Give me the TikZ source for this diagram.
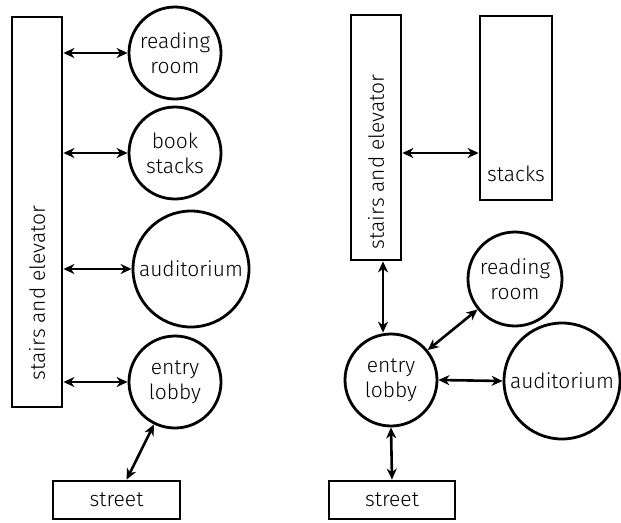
\documentclass[tikz,border=0pt]{standalone}
\usepackage{fontspec}
\setmainfont{Fira Sans}[UprightFont={* Light}]
\usetikzlibrary{arrows.meta}
\tikzset{
  room/.style={circle,draw,line width=2.8pt,inner sep=0pt,align=center,font=\fontsize{21}{25}\selectfont},
  box/.style={rectangle,draw,line width=2.8pt,inner sep=0pt,font=\fontsize{21}{25}\selectfont},
  lbl/.style={inner sep=0pt,font=\fontsize{21}{25}\selectfont},
  arr/.style={line width=2.6pt,{Stealth[length=11pt,width=10pt,inset=3.5pt]}-{Stealth[length=11pt,width=10pt,inset=3.5pt]}}
}
\begin{document}
\begin{tikzpicture}[x=1pt,y=-1pt]
\useasboundingbox (0,0) rectangle (621,522);
% left diagram
\node[box,minimum width=50pt,minimum height=390pt] (stairsL) at (37,212) {};
\node[lbl,rotate=90] (stairsLt) at (37,293) {stairs and elevator};
\node[room,minimum size=92pt] (rrL) at (175,53) {reading\\room};
\node[room,minimum size=92pt] (bsL) at (175,153) {book\\stacks};
\node[room,minimum size=116pt] (audL) at (191,269) {auditorium};
\node[room,minimum size=92pt] (elL) at (175,382) {entry\\lobby};
\node[box,minimum width=127pt,minimum height=38pt] (streetL) at (116.5,500) {street};
\draw[arr] (stairsL.east |- rrL.west) -- (rrL.west);
\draw[arr] (stairsL.east |- bsL.west) -- (bsL.west);
\draw[arr] (stairsL.east |- audL.west) -- (audL.west);
\draw[arr] (stairsL.east |- elL.west) -- (elL.west);
\draw[arr] (streetL) -- (elL);
% right diagram
\node[box,minimum width=50pt,minimum height=245pt] (stairsR) at (376,137.5) {};
\node[lbl,rotate=90] (stairsRt) at (376,162) {stairs and elevator};
\node[box,minimum width=72pt,minimum height=184pt] (stacks) at (516,108) {};
\node[lbl] (stackst) at (516,174) {stacks};
\node[room,minimum size=94pt] (rrR) at (515,279) {reading\\room};
\node[room,minimum size=116pt] (audR) at (562,381) {auditorium};
\node[room,minimum size=92pt] (elR) at (391,380) {entry\\lobby};
\node[box,minimum width=126pt,minimum height=38pt] (streetR) at (392,500) {street};
\coordinate (sa) at (0,153);
\coordinate (va) at (383,0);
\draw[arr] (stairsR.east |- sa) -- (stacks.west |- sa);
\draw[arr] (stairsR.south -| va) -- (elR.north -| va);
\draw[arr] (elR) -- (rrR);
\draw[arr] (elR.east) -- (audR.west);
\draw[arr] (elR.south) -- (streetR.north);
\end{tikzpicture}
\end{document}
